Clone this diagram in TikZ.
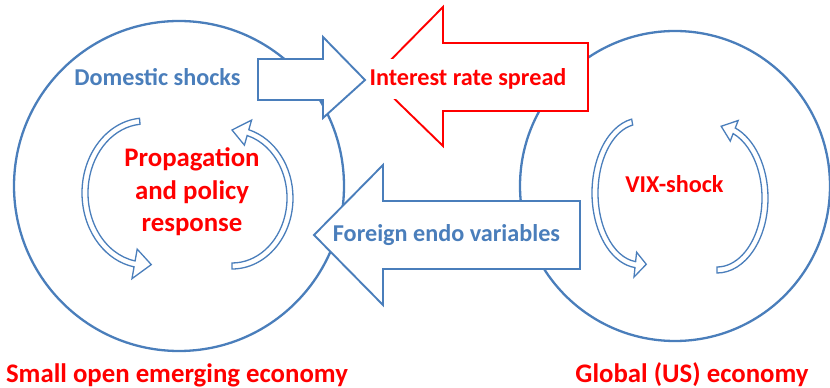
\documentclass[tikz,border=0pt]{standalone}
\usepackage{fontspec}
\setmainfont{Carlito}
\usetikzlibrary{positioning}
\definecolor{eblue}{RGB}{74,126,187}
\definecolor{ered}{RGB}{255,0,0}

% hollow bent arrow on an ellipse:
% centre, x radius, y radius, start angle, end angle, tip angle, head width
\newcommand{\cyclearrow}[7]{%
  \pgfmathsetmacro{\cyox}{#2+3}\pgfmathsetmacro{\cyoy}{#3+3}%
  \pgfmathsetmacro{\cyix}{#2-3}\pgfmathsetmacro{\cyiy}{#3-3}%
  \pgfmathsetmacro{\cyhx}{#2+#7/2}\pgfmathsetmacro{\cyhy}{#3+#7/2}%
  \pgfmathsetmacro{\cykx}{#2-#7/2}\pgfmathsetmacro{\cyky}{#3-#7/2}%
  \begin{scope}[shift={#1}]
    \draw[cyc] (#4:\cyox pt and \cyoy pt)
      arc[start angle=#4,end angle=#5,x radius=\cyox pt,y radius=\cyoy pt]
      -- (#5:\cyhx pt and \cyhy pt) -- (#6:#2pt and #3pt)
      -- (#5:\cykx pt and \cyky pt) -- (#5:\cyix pt and \cyiy pt)
      arc[start angle=#5,end angle=#4,x radius=\cyix pt,y radius=\cyiy pt]
      -- cycle;
  \end{scope}}

\begin{document}
\begin{tikzpicture}[x=1pt,y=1pt,
  eco/.style={circle,draw=eblue,line width=2.3pt,inner sep=0pt},
  blk/.style={draw=eblue,line width=1.9pt,fill=white},
  redblk/.style={draw=ered,line width=1.9pt,fill=white},
  cyc/.style={draw=eblue,line width=1.3pt,fill=white},
  lab/.style={font=\bfseries\fontsize{24.2}{29}\selectfont,
              text=eblue,anchor=base,inner sep=0pt},
  hot/.style={font=\bfseries\fontsize{24.2}{29}\selectfont,
              text=ered,anchor=base,inner sep=0pt},
  big/.style={font=\bfseries\fontsize{26.8}{32.5}\selectfont,
              text=ered,align=center,inner sep=0pt}]
  \useasboundingbox (0,0) rectangle (830,388);

  % the two economies
  \node[eco,minimum size=330pt] (home) at (179,202) {};
  \node[eco,minimum size=310pt] (world) at (675,202) {};

  % feedback loops inside each economy
  \cyclearrow{(145,195)}{60}{72}{95}{260}{276}{30}
  \cyclearrow{(232,190)}{58}{68}{-90}{74}{90}{26}
  \cyclearrow{(640,195)}{45}{72}{100}{264}{278}{25}
  \cyclearrow{(717,190)}{48}{72}{-90}{69}{85}{22}

  % spill-overs between the economies
  \draw[blk] (258,329) -- (323,329) -- (323,351) -- (365,308)
    -- (323,270) -- (323,288) -- (258,288) -- cycle;
  \draw[redblk] (588,345) -- (443,345) -- (443,381) -- (373,310)
    -- (443,242) -- (443,277) -- (588,277) -- cycle;
  \draw[blk] (580,187) -- (383,187) -- (383,223) -- (314,153)
    -- (383,83) -- (383,119) -- (580,119) -- cycle;

  % labels
  \node[lab] (dom) at (157.5,302) {Domestic shocks};
  \node[hot,fill=white,minimum height=40pt,inner xsep=3pt] (irs) at (468,302)
    {Interest rate spread};
  \node[lab] (fev) at (446.5,146) {Foreign endo variables};
  \node[big] (prop) at (192,196) {Propagation\\and policy\\response};
  \node[hot] (vix) at (674.5,195) {VIX-shock};
  \node[big,anchor=base] (soe) at (177,5) {Small open emerging economy};
  \node[big,anchor=base] (glob) at (692,5) {Global (US) economy};
\end{tikzpicture}
\end{document}
